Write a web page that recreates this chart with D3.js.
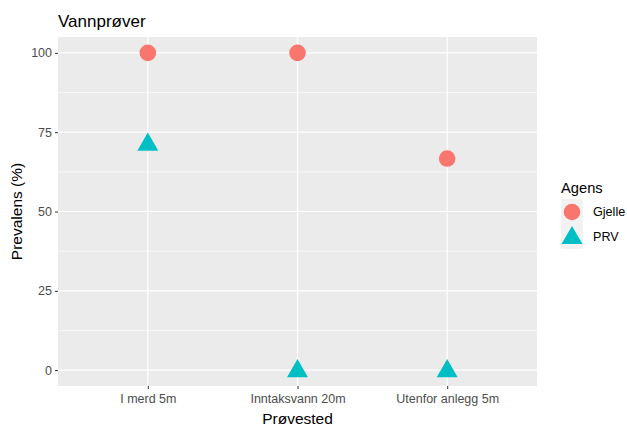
<!DOCTYPE html>
<html>
<head>
<meta charset="utf-8">
<script src="https://cdn.jsdelivr.net/npm/d3@7"></script>
<style>
  body { margin: 0; background: #fff; }
  text { font-family: "Liberation Sans", Arial, sans-serif; }
</style>
</head>
<body>
<script>
//data
var categories = ["I merd 5m", "Inntaksvann 20m", "Utenfor anlegg 5m"];
var gjelle = [100, 100, 66.7];
var prv = [71.4, 0, 0];
var yTicks = [0, 25, 50, 75, 100];
var agens = ["Gjelle", "PRV"];
var colors = ["#F8766D", "#00BFC4"];

var w = 627, h = 428;
var margin = {left: 58, top: 37, right: 90, bottom: 42};

window.onload = function(){

    var svg = d3.select("body")
        .append("svg")
        .attr("width", w)
        .attr("height", h);

    var pw = w - margin.left - margin.right;
    var ph = h - margin.top - margin.bottom;

    //ggplot style expansion
    var x = d3.scalePoint()
        .domain(categories)
        .range([margin.left, margin.left + pw])
        .padding(0.6);

    var y = d3.scaleLinear()
        .domain([-5, 105])
        .range([margin.top + ph, margin.top]);

    //panel
    svg.append("rect")
        .attr("x", margin.left)
        .attr("y", margin.top)
        .attr("width", pw)
        .attr("height", ph)
        .style("fill", "#EBEBEB");

    //minor grid
    var minor = [12.5, 37.5, 62.5, 87.5];
    svg.selectAll(".minor")
        .data(minor)
        .enter()
        .append("line")
        .attr("x1", margin.left)
        .attr("x2", margin.left + pw)
        .attr("y1", function(d){ return y(d); })
        .attr("y2", function(d){ return y(d); })
        .style("stroke", "#fff")
        .style("stroke-width", 0.6);

    //major grid
    svg.selectAll(".hmajor")
        .data(yTicks)
        .enter()
        .append("line")
        .attr("x1", margin.left)
        .attr("x2", margin.left + pw)
        .attr("y1", function(d){ return y(d); })
        .attr("y2", function(d){ return y(d); })
        .style("stroke", "#fff")
        .style("stroke-width", 1.2);

    svg.selectAll(".vmajor")
        .data(categories)
        .enter()
        .append("line")
        .attr("x1", function(d){ return x(d); })
        .attr("x2", function(d){ return x(d); })
        .attr("y1", margin.top)
        .attr("y2", margin.top + ph)
        .style("stroke", "#fff")
        .style("stroke-width", 1.2);

    //axes
    var yAxis = svg.append("g")
        .attr("transform", "translate(" + margin.left + ",0)")
        .call(d3.axisLeft(y).tickValues(yTicks).tickSize(3).tickPadding(3));

    var xAxis = svg.append("g")
        .attr("transform", "translate(0," + (margin.top + ph) + ")")
        .call(d3.axisBottom(x).tickSize(3).tickPadding(5));

    [yAxis, xAxis].forEach(function(a){
        a.select(".domain").remove();
        a.selectAll(".tick line").style("stroke", "#333").style("stroke-width", 1);
        a.selectAll(".tick text")
            .style("fill", "#4D4D4D")
            .style("font-size", "12.5px")
            .style("font-family", "'Liberation Sans', Arial, sans-serif");
    });

    //points
    var circles = categories.map(function(c, i){ return {cat: c, v: gjelle[i]}; });
    var tris = categories.map(function(c, i){ return {cat: c, v: prv[i]}; });

    svg.selectAll(".gjelle")
        .data(circles)
        .enter()
        .append("circle")
        .attr("cx", function(d){ return x(d.cat); })
        .attr("cy", function(d){ return y(d.v); })
        .attr("r", 8.3)
        .style("fill", colors[0]);

    var tri = d3.symbol().type(d3.symbolTriangle).size(190);

    svg.selectAll(".prv")
        .data(tris)
        .enter()
        .append("path")
        .attr("d", tri)
        .attr("transform", function(d){ return "translate(" + x(d.cat) + "," + (y(d.v) + 1) + ")"; })
        .style("fill", colors[1]);

    //titles
    svg.append("text")
        .attr("x", margin.left)
        .attr("y", 27)
        .style("font-size", "17px")
        .style("fill", "#000")
        .text("Vannprøver");

    svg.append("text")
        .attr("x", margin.left + pw / 2)
        .attr("y", 424)
        .attr("text-anchor", "middle")
        .style("font-size", "15.5px")
        .style("fill", "#000")
        .text("Prøvested");

    svg.append("text")
        .attr("transform", "translate(22," + (margin.top + ph / 2) + ") rotate(-90)")
        .attr("text-anchor", "middle")
        .style("font-size", "15.5px")
        .style("fill", "#000")
        .text("Prevalens (%)");

    //legend
    var lg = svg.append("g")
        .attr("transform", "translate(561,199)");

    lg.append("text")
        .attr("x", 0)
        .attr("y", -6)
        .style("font-size", "14.7px")
        .style("fill", "#000")
        .text("Agens");

    var keys = lg.selectAll(".key")
        .data(agens)
        .enter()
        .append("g")
        .attr("transform", function(d, i){ return "translate(0," + (i * 25) + ")"; });

    keys.append("rect")
        .attr("width", 22)
        .attr("height", 25)
        .style("fill", "#F2F2F2");

    keys.append("text")
        .attr("x", 32)
        .attr("y", 17)
        .style("font-size", "12.6px")
        .style("fill", "#000")
        .text(function(d){ return d; });

    lg.append("circle")
        .attr("cx", 11)
        .attr("cy", 13)
        .attr("r", 8.3)
        .style("fill", colors[0]);

    lg.append("path")
        .attr("d", tri)
        .attr("transform", "translate(11,39)")
        .style("fill", colors[1]);
};
</script>
</body>
</html>
